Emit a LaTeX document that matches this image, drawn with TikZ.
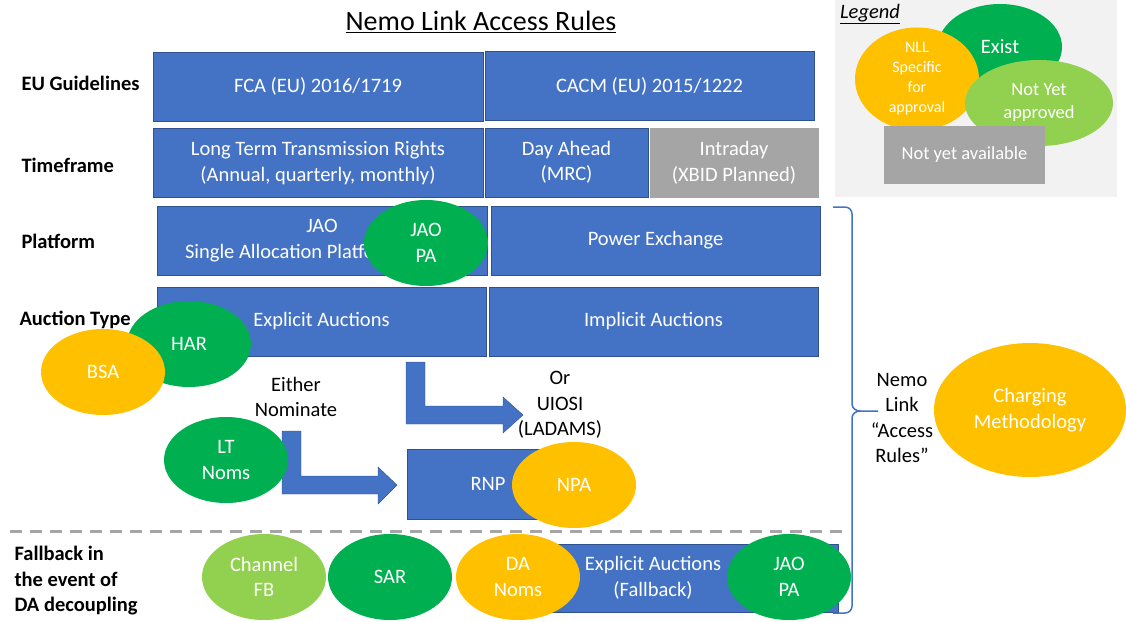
\documentclass[tikz,border=0pt]{standalone}
\usepackage{fontspec}
\setmainfont{Carlito}
\usetikzlibrary{shapes.geometric}
\definecolor{boxblue}{HTML}{4472C4}
\definecolor{boxline}{HTML}{2F528F}
\definecolor{exgreen}{HTML}{00B050}
\definecolor{nllorange}{HTML}{FFC000}
\definecolor{nyagreen}{HTML}{92D050}
\definecolor{navail}{HTML}{A5A5A5}
\definecolor{legendbg}{HTML}{F2F2F2}
\newcommand{\bodysize}{\fontsize{20.5}{25.5}\selectfont}
\newcommand{\smallsize}{\fontsize{16}{20}\selectfont}
\begin{document}
\begin{tikzpicture}[x=1pt, y=-1pt, font=\bodysize,
      box/.style={draw=boxline, fill=boxblue, text=white, align=center, inner sep=0pt, minimum width=330pt, minimum height=69pt},
      oval/.style={ellipse, text=white, align=center, inner sep=0pt, minimum width=124pt, minimum height=86pt},
      exist/.style={oval, fill=exgreen},
      nll/.style={oval, fill=nllorange},
      nya/.style={oval, fill=nyagreen},
      rowlbl/.style={anchor=west, align=left, font=\bodysize\bfseries},
      plain/.style={align=center, text=black},
      blockarrow/.style={draw=boxline, fill=boxblue}]
    \useasboundingbox (0,0) rectangle (1126,621);
    % legend
    \fill[legendbg] (835,0) rectangle (1117,197);
    \node[font=\bodysize\itshape] (leg) at (870,14) {\underline{Legend}};
    \node[exist] (lexist) at (1000,47) {Exist};
    \node[nll, font=\smallsize] (lnll) at (917,79) {NLL\\Specific\\for\\approval};
    \node[nya, minimum width=148pt, font=\fontsize{18.5}{23}\selectfont] (lnya) at (1039,103) {Not Yet\\approved};
    \node[fill=navail, text=white, minimum width=161pt, minimum height=58pt, font=\fontsize{18.5}{23}\selectfont] (lnav) at (964.5,155) {Not yet available};
    % title and rows
    \node[font=\fontsize{28}{32}\selectfont] (title) at (481,22) {\underline{Nemo Link Access Rules}};
    \node[rowlbl] (eu) at (18,83) {EU Guidelines};
    \node[rowlbl] (tf) at (18,165) {Timeframe};
    \node[rowlbl] (pf) at (18,241) {Platform};
    \node[rowlbl] (at) at (16,320) {Auction Type};
    \node[rowlbl] (fb) at (11,581) {Fallback in\\the event of\\DA decoupling};
    \node[box] (fca) at (318,86.5) {FCA (EU) 2016/1719};
    \node[box, minimum width=329pt] (cacm) at (649.5,86) {CACM (EU) 2015/1222};
    \node[box] (lttr) at (318,163) {Long Term Transmission Rights\\(Annual, quarterly, monthly)};
    \node[box, minimum width=163pt] (da) at (566.5,162.5) {Day Ahead\\(MRC)};
    \node[box, draw=navail, fill=navail, minimum width=168pt] (id) at (734,163) {Intraday\\(XBID Planned)};
    \node[box] (jao) at (322,240.5) {JAO\\\makebox[274pt][l]{Single Allocation Platform}};
    \node[box, minimum width=329pt] (px) at (655.5,240.5) {Power Exchange};
    \node[box, minimum width=329pt] (expl) at (321.5,321.5) {Explicit Auctions};
    \node[box, minimum width=329pt] (impl) at (653.5,321.5) {Implicit Auctions};
    \node[box, minimum width=162pt, minimum height=70pt] (rnp) at (488,484) {RNP};
    \draw[boxline, fill=boxblue] (505,544) rectangle (838,612);
    \node[plain, text=white] (expfb) at (653,578) {Explicit Auctions\\(Fallback)};
    % bent arrows
    \coordinate (ua) at (406,362);
    \coordinate (la) at (282,431);
    \draw[blockarrow] (ua) -- ++(19,0) -- ++(0,44) -- ++(78,0) -- ++(0,-9) -- ++(20,18) -- ++(-20,18) -- ++(0,-9) -- ++(-97,0) -- cycle;
    \draw[blockarrow] (la) -- ++(19,0) -- ++(0,45) -- ++(77,0) -- ++(0,-9) -- ++(19,18) -- ++(-19,19) -- ++(0,-10) -- ++(-96,0) -- cycle;
    \node[plain] (either) at (296,397) {Either\\Nominate};
    \node[plain] (uiosi) at (560,405) {Or\\UIOSI\\(LADAMS)};
    % divider
    \coordinate (dl) at (10,531);
    \coordinate (dr) at (842,531);
    \draw[navail, line width=3pt, dash pattern=on 12pt off 8pt] (dl) -- (dr);
    % ovals
    \node[exist] (jaopa) at (426,243) {JAO\\PA};
    \node[exist] (har) at (189,344) {HAR};
    \node[nll] (bsa) at (103,372) {BSA};
    \node[exist] (ltn) at (226,460) {LT\\Noms};
    \node[nll] (npa) at (574,485) {NPA};
    \node[nya] (chfb) at (264,577) {Channel\\FB};
    \node[exist] (sar) at (390,577) {SAR};
    \node[nll] (dan) at (518,577) {DA\\Noms};
    \node[exist] (jaopafb) at (789,577) {JAO\\PA};
    % access rules brace
    \draw[boxblue, line width=1.5pt] (833,207) -- (845,207) to[out=0,in=90] (852,214) -- (852,404) to[out=-90,in=180] (860,411) -- (878,411);
    \draw[boxblue, line width=1.5pt] (833,613) -- (845,613) to[out=0,in=-90] (852,606) -- (852,418) to[out=90,in=180] (860,411);
    \node[plain] (nlar) at (902,418) {Nemo\\Link\\``Access\\Rules''};
    \node[nll, minimum width=192pt, minimum height=134pt] (charge) at (1030,410) {Charging\\Methodology};
\end{tikzpicture}
\end{document}
